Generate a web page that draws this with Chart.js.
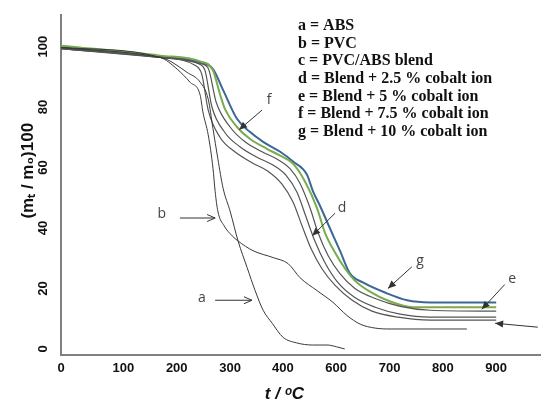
<!DOCTYPE html>
<html>
<head>
<meta charset="utf-8">
<script src="https://cdn.jsdelivr.net/npm/chart.js@4"></script>
<style>
  html, body { margin: 0; padding: 0; background: #fff; }
</style>
</head>
<body>
<canvas id="tga-chart" width="541" height="400"></canvas>
<script>
// Axis ticks (positions along the axis and the labels printed under them)
const xTickPos = [0, 117, 217, 317, 416, 516, 616, 716, 816];
const xTickLabels = ['0', '100', '200', '300', '400', '600', '700', '800', '900'];
const yTickPos = [0, 20, 40, 60, 80, 100];

// a = ABS
const absT = [0, 186, 199, 236, 261, 276, 285, 294, 304, 317, 332, 349, 364, 379, 396, 416, 442, 472, 499, 517, 532];
const absW = [99.7, 96.4, 95.7, 91.5, 88.2, 82.6, 72.8, 63, 53.1, 45.6, 35.7, 26.9, 19.3, 12.8, 8.5, 3.9, 2, 1.3, 1.3, 0.7, 0];

// b = PVC
const pvcT = [0, 186, 218, 242, 261, 266, 276, 285, 289, 294, 306, 321, 332, 360, 398, 426, 448, 480, 510, 536, 561, 589, 617, 761];
const pvcW = [99.7, 96.4, 92.5, 88.2, 83.9, 78.4, 70.8, 59.7, 52.1, 45.6, 40.7, 37.4, 35.7, 32.5, 30.2, 28.2, 23.6, 19.3, 15.4, 11.1, 8.2, 6.9, 6.6, 6.6];

// c = PVC/ABS blend
const blendT = [0, 186, 251, 264, 276, 298, 326, 358, 388, 414, 435, 452, 469, 489, 514, 546, 583, 632, 692, 816];
const blendW = [99.3, 96.4, 93.8, 90.8, 79, 70, 65.2, 61.6, 58.8, 54.6, 48.6, 40.7, 33.1, 26.6, 21, 16.1, 12.5, 10.5, 9.5, 9.5];

// d = blend + 2.5 % cobalt
const co25T = [0, 186, 261, 270, 283, 307.5, 336, 367.5, 397.5, 422, 442.5, 459, 476, 495, 519, 551, 589, 636, 692, 816];
const co25W = [99.3, 96.4, 94.1, 92.1, 80, 71.5, 66.8, 63.4, 60.8, 57.4, 51.8, 43.9, 35.7, 28.5, 22, 17, 13.8, 11.5, 10.5, 10.5];

// e = blend + 5 % cobalt
const co5T = [0, 186, 261, 276, 291, 317, 345, 377, 407, 429, 448, 467, 482, 501, 523, 551, 589, 636, 692, 816];
const co5W = [99.3, 96.4, 94.4, 92.8, 81.6, 73.4, 68.5, 65.2, 62.6, 59.7, 54.8, 46.6, 38.4, 30.8, 24.9, 20, 16.7, 14.1, 12.8, 12.5];

// f = blend + 7.5 % cobalt (green)
const co75T = [0, 186, 261, 285, 298, 307.5, 330, 354, 386, 411, 435, 457.5, 480, 495, 514, 532.5, 551, 576, 617, 660, 816];
const co75W = [100.3, 97, 95.1, 92.1, 84.3, 79.3, 73.4, 69.5, 66.2, 63.9, 61.3, 55.4, 46.6, 38.4, 31.8, 26.6, 22.6, 19.3, 15.7, 13.8, 13.8];

// g = blend + 10 % cobalt (blue)
const co10T = [0, 186, 261, 285, 304, 330, 354, 379, 411, 435, 461, 472.5, 486, 504, 523, 542, 566, 611, 649, 692, 816];
const co10W = [99.7, 96.7, 94.8, 92.5, 85.6, 76.1, 71.8, 68.5, 65.2, 62, 57.7, 52.1, 47.2, 40, 32.5, 24.9, 22, 18.4, 16.1, 15.4, 15.4];

const legendLines = [
    'a = ABS',
    'b = PVC',
    'c = PVC/ABS blend',
    'd = Blend + 2.5 % cobalt ion',
    'e = Blend + 5 % cobalt ion',
    'f = Blend + 7.5 % cobalt ion',
    'g = Blend + 10 % cobalt ion'
];

// Letter callouts with arrows (in axis units)
const callouts = [
    { text: 'a', tx: 264, ty: 16.7, x0: 289, y0: 16.1, x1: 358, y1: 16.1, head: 'open' },
    { text: 'b', tx: 189, ty: 44.6, x0: 223, y0: 43.3, x1: 289, y1: 43.3, head: 'open' },
    { text: 'f', tx: 390, ty: 82.3, x0: 377, y0: 79, x1: 334, y1: 72.5, head: 'fill' },
    { text: 'd', tx: 527, ty: 46.6, x0: 514, y0: 44.9, x1: 471, y1: 37.4, head: 'fill' },
    { text: 'g', tx: 673, ty: 29.2, x0: 658, y0: 27.2, x1: 613, y1: 20, head: 'fill' },
    { text: 'e', tx: 846, ty: 23, x0: 832, y0: 21.3, x1: 789, y1: 13.1, head: 'fill' },
    { text: 'c', tx: 905, ty: 7.5, x0: 894, y0: 7.2, x1: 814, y1: 8.5, head: 'fill' }
];

function toPoints(xs, ys) {
    return xs.map((x, i) => ({ x: x, y: ys[i] }));
}

function series(xs, ys, color, width) {
    return {
        data: toPoints(xs, ys),
        borderColor: color,
        borderWidth: width,
        pointRadius: 0,
        fill: false,
        cubicInterpolationMode: 'monotone'
    };
}

const annotationPlugin = {
    id: 'tgaAnnotations',
    afterDatasetsDraw(chart) {
        const { ctx, chartArea, scales: { x, y } } = chart;
        ctx.save();

        // legend block written as text
        ctx.font = 'bold 16px "Liberation Serif"';
        ctx.fillStyle = '#111';
        ctx.textAlign = 'left';
        ctx.textBaseline = 'middle';
        legendLines.forEach((line, i) => {
            ctx.fillText(line, chartArea.left + 237, chartArea.top + 11 + i * 17.7);
        });

        // arrows with letters
        ctx.strokeStyle = '#333';
        ctx.fillStyle = '#333';
        ctx.lineWidth = 1;
        callouts.forEach(c => {
            const px0 = x.getPixelForValue(c.x0), py0 = y.getPixelForValue(c.y0);
            const px1 = x.getPixelForValue(c.x1), py1 = y.getPixelForValue(c.y1);
            const ang = Math.atan2(py1 - py0, px1 - px0);
            ctx.beginPath();
            ctx.moveTo(px0, py0);
            ctx.lineTo(px1, py1);
            ctx.stroke();
            const len = 8, half = 3.5;
            const bx = px1 - len * Math.cos(ang), by = py1 - len * Math.sin(ang);
            const ox = half * Math.sin(ang), oy = -half * Math.cos(ang);
            ctx.beginPath();
            if (c.head === 'open') {
                ctx.moveTo(bx + ox, by + oy);
                ctx.lineTo(px1, py1);
                ctx.lineTo(bx - ox, by - oy);
                ctx.stroke();
            } else {
                ctx.moveTo(px1, py1);
                ctx.lineTo(bx + ox, by + oy);
                ctx.lineTo(bx - ox, by - oy);
                ctx.closePath();
                ctx.fill();
            }
            ctx.font = '14px "Open Sans"';
            ctx.fillStyle = '#444';
            ctx.textAlign = 'center';
            ctx.fillText(c.text, x.getPixelForValue(c.tx), y.getPixelForValue(c.ty));
            ctx.fillStyle = '#333';
        });
        ctx.restore();
    }
};

const tickFont = { family: 'Liberation Sans', weight: 'bold', size: 13 };

new Chart(document.getElementById('tga-chart').getContext('2d'), {
    type: 'line',
    data: {
        datasets: [
            series(absT, absW, '#3a3a3a', 1),
            series(pvcT, pvcW, '#3a3a3a', 1),
            series(blendT, blendW, '#555555', 1.2),
            series(co25T, co25W, '#555555', 1.2),
            series(co5T, co5W, '#555555', 1.2),
            series(co75T, co75W, '#7aab4f', 2),
            series(co10T, co10W, '#3b6893', 2)
        ]
    },
    options: {
        responsive: false,
        animation: false,
        layout: { padding: { top: 12, right: 0, bottom: 0, left: 0 } },
        plugins: {
            legend: { display: false },
            tooltip: { enabled: false }
        },
        scales: {
            x: {
                type: 'linear',
                min: 0,
                max: 900,
                afterBuildTicks: s => { s.ticks = xTickPos.map(v => ({ value: v })); },
                afterFit: s => { s.height = 45; },
                grid: { display: false, drawTicks: false },
                border: { display: true, color: '#808080', width: 2 },
                ticks: {
                    autoSkip: false,
                    maxRotation: 0,
                    padding: 6,
                    color: '#111',
                    font: tickFont,
                    callback: (v, i) => xTickLabels[i]
                },
                title: {
                    display: true,
                    text: 't / ᵒC       ',
                    color: '#111',
                    padding: { top: 0, bottom: -3 },
                    font: { family: 'Liberation Sans', weight: 'bold', style: 'italic', size: 17, lineHeight: 1 }
                }
            },
            y: {
                type: 'linear',
                min: -2,
                max: 110.5,
                afterBuildTicks: s => { s.ticks = yTickPos.map(v => ({ value: v })); },
                afterFit: s => { s.width = 61; },
                grid: { display: false, drawTicks: false },
                border: { display: true, color: '#808080', width: 2 },
                ticks: {
                    minRotation: 90,
                    maxRotation: 90,
                    crossAlign: 'center',
                    padding: 7,
                    color: '#111',
                    font: tickFont
                },
                title: {
                    display: true,
                    text: '      (mₜ / m₀)100',
                    color: '#111',
                    padding: { top: 20, bottom: 0 },
                    font: { family: 'Liberation Sans', weight: 'bold', size: 17, lineHeight: 1 }
                }
            }
        }
    },
    plugins: [annotationPlugin]
});
</script>
</body>
</html>
